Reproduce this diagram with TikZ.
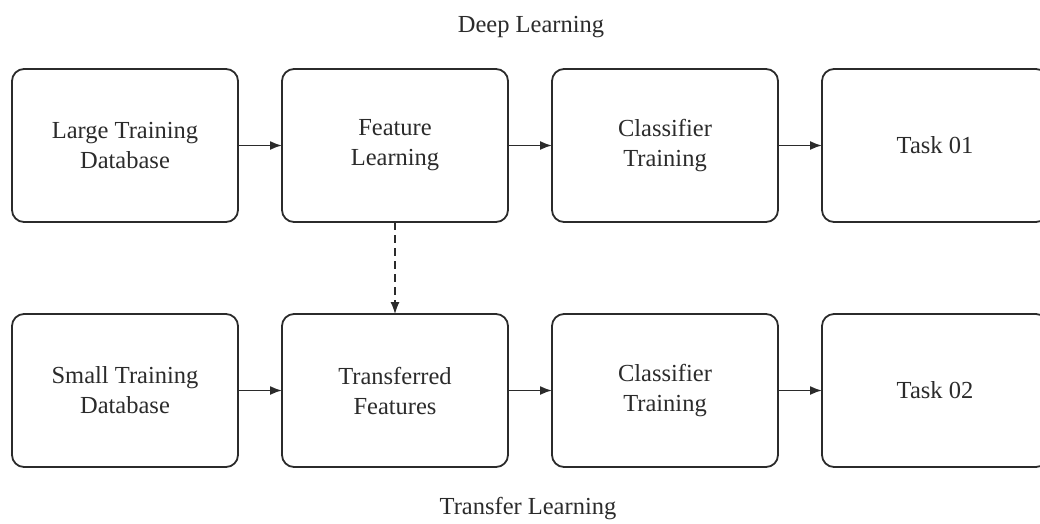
\documentclass[tikz,border=0pt]{standalone}
\usepackage{fontspec}
\setmainfont{Liberation Serif}
\usepackage{xcolor}
\usetikzlibrary{positioning}
\usetikzlibrary{arrows.meta}
\definecolor{dunkel}{HTML}{2B2B2B}
\tikzset{
  Kasten/.style={draw=dunkel, line width=1.8pt, rounded corners=12pt,
    minimum width=226pt, minimum height=153pt, align=center,
    inner sep=0pt, outer sep=0pt, text=dunkel}, % Bausteine
  Pfeil/.style={dunkel, line width=1.6pt, ->}, % Verbindungen
  Titel/.style={text=dunkel}
}
\begin{document}
\begin{tikzpicture}[
font=\fontsize{24.5}{30}\selectfont,
node distance=44pt and 44pt,
>={Latex[length=12pt,width=9pt]} % Pfeilspitzen
]
\useasboundingbox (0pt,0pt) rectangle (1040pt,-523pt);

%Bausteine oben
\node[Kasten, anchor=north west] (LTD) at (12pt,-69pt) {Large Training\\Database};
\node[Kasten, right=of LTD] (FL) {Feature\\Learning};
\node[Kasten, right=of FL] (CT1) {Classifier\\Training};
\node[Kasten, right=of CT1] (T1) {Task 01};

%Bausteine unten
\node[Kasten, below=92pt of LTD] (STD) {Small Training\\Database};
\node[Kasten, right=of STD] (TF) {Transferred\\Features};
\node[Kasten, right=of TF] (CT2) {Classifier\\Training};
\node[Kasten, right=of CT2] (T2) {Task 02};

%Ueberschriften
\node[Titel] (DL) at (531pt,-27pt) {Deep Learning};
\node[Titel] (TL) at (528pt,-509pt) {Transfer Learning};

%Pfeile
\draw[Pfeil] (LTD) -- (FL);
\draw[Pfeil] (FL) -- (CT1);
\draw[Pfeil] (CT1) -- (T1);
\draw[Pfeil] (STD) -- (TF);
\draw[Pfeil] (TF) -- (CT2);
\draw[Pfeil] (CT2) -- (T2);
\draw[Pfeil, line width=1.2pt, dash pattern=on 8pt off 5pt] (FL) -- (TF);

\end{tikzpicture}
\end{document}
